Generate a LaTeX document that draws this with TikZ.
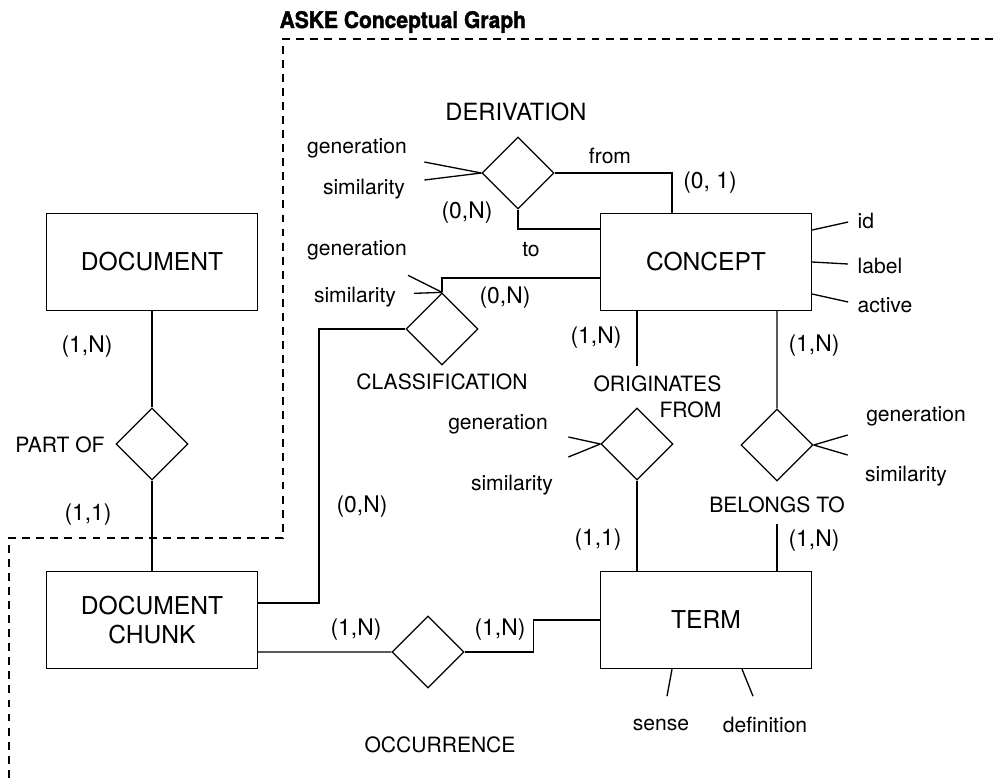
\documentclass[tikz,border=0pt]{standalone}
\usepackage{fontspec}
\setmainfont{TeX Gyre Heros}
\newfontfamily\titlefont{texgyreheros-bold.otf}[FakeStretch=0.92,FakeBold=1.6]
\usetikzlibrary{shapes.geometric}

\begin{document}
\begin{tikzpicture}[x=0.02cm,y=-0.02cm,line width=0.75pt,
  entity/.style={draw,rectangle,minimum width=4.22cm,minimum height=1.94cm,align=center,font=\fontsize{14}{17}\selectfont},
  rel/.style={draw,diamond,minimum width=1.44cm,minimum height=1.44cm,inner sep=0pt},
  txt/.style={inner sep=0pt,font=\fontsize{12}{14.5}\selectfont},
  card/.style={inner sep=0pt,font=\fontsize{13}{15}\selectfont},
  frame/.style={dash pattern=on 4.5pt off 3.5pt}]
\useasboundingbox (0,0) rectangle (993,778);

% graph frame
\node[anchor=base west,inner sep=0pt,font=\titlefont\fontsize{13}{15}\selectfont] (title) at (279,28) {ASKE Conceptual Graph};
\draw[frame] (993,39) -- (283,39) -- (283,538) -- (9,538) -- (9,778);

% entities
\node[entity] (doc) at (152,262) {DOCUMENT};
\node[entity] (chunk) at (152,620) {DOCUMENT\\CHUNK};
\node[entity] (concept) at (706,262) {CONCEPT};
\node[entity] (term) at (706,620) {TERM};

% relations
\node[rel] (deriv) at (518,173) {};
\node[rel] (class) at (442,329) {};
\node[rel] (partof) at (152,444) {};
\node[rel] (orig) at (637,444) {};
\node[rel] (belongs) at (777,445) {};
\node[rel] (occur) at (428,652) {};

\node[txt,font=\fontsize{13.5}{16}\selectfont] (derivlbl) at (516,112) {DERIVATION};
\node[txt] (classlbl) at (442,382) {CLASSIFICATION};
\node[txt] (partoflbl) at (60,445) {PART OF};
\node[txt,anchor=east,align=right] (origlbl) at (722,397) {ORIGINATES\\FROM};
\node[txt] (belongslbl) at (777,505) {BELONGS TO};
\node[txt] (occurlbl) at (440,745) {OCCURRENCE};

% connectors
\draw (doc) -- (partof);
\draw (partof) -- (chunk);
\draw ([yshift=0.34cm]chunk.east) -- ++(61,0) |- (class.west);
\draw (class.north) |- ([yshift=-0.32cm]concept.west);
\draw (deriv.east) -| ([xshift=-0.68cm]concept.north);
\draw (deriv.south) |- ([yshift=0.66cm]concept.west);
\draw ([xshift=-1.38cm]concept.south) -- ++(0,55);
\draw (orig.south) -- (orig.south |- term.north);
\draw ([xshift=1.42cm]concept.south) -- (belongs.north);
\draw ([xshift=1.42cm]term.north) -- ++(0,-47);
\draw ([yshift=-0.64cm]chunk.east) -- (occur.west);
\draw (occur.east) -- ++(69,0) |- (term.west);

% attributes
\draw (deriv.west) -- ++(-57,-11);
\draw (deriv.west) -- ++(-57,7);
\node[txt] (derivgen) at (357,148) {generation};
\node[txt] (derivsim) at (364,189) {similarity};
\draw (class.north) -- ++(-34,-17);
\draw (class.north) -- ++(-28,1);
\node[txt] (classgen) at (357,250) {generation};
\node[txt] (classsim) at (355,297) {similarity};
\draw (orig.west) -- ++(-32,-7);
\draw (orig.west) -- ++(-32,13);
\node[txt] (origgen) at (498,424) {generation};
\node[txt] (origsim) at (512,485) {similarity};
\draw (belongs.east) -- ++(34,-10);
\draw (belongs.east) -- ++(34,10);
\node[txt] (belongsgen) at (916,416) {generation};
\node[txt] (belongssim) at (906,476) {similarity};
\draw ([yshift=0.64cm]concept.east) -- ++(36,-8);
\draw (concept.east) -- ++(36,2);
\draw ([yshift=-0.64cm]concept.east) -- ++(36,8);
\node[txt,anchor=west] (cid) at (857,221) {id};
\node[txt,anchor=west] (clabel) at (857,266) {label};
\node[txt,anchor=west] (cactive) at (857,305) {active};
\draw ([xshift=-0.68cm]term.south) -- ++(-5,27);
\draw ([xshift=0.72cm]term.south) -- ++(11,27);
\node[txt] (tsense) at (661,725) {sense};
\node[txt] (tdef) at (765,725) {definition};

% cardinalities and roles
\node[txt] (from) at (610,156) {from};
\node[txt] (to) at (531,250) {to};
\node[card] (c1) at (710,183) {(0, 1)};
\node[card] (c2) at (467,213) {(0,N)};
\node[card] (c3) at (505,298) {(0,N)};
\node[card] (c4) at (87,347) {(1,N)};
\node[card] (c5) at (88,515) {(1,1)};
\node[card] (c6) at (596,338) {(1,N)};
\node[card] (c7) at (814,346) {(1,N)};
\node[card] (c8) at (362,507) {(0,N)};
\node[card] (c9) at (598,540) {(1,1)};
\node[card] (c10) at (814,541) {(1,N)};
\node[card] (c11) at (356,630) {(1,N)};
\node[card] (c12) at (500,630) {(1,N)};
\end{tikzpicture}
\end{document}
